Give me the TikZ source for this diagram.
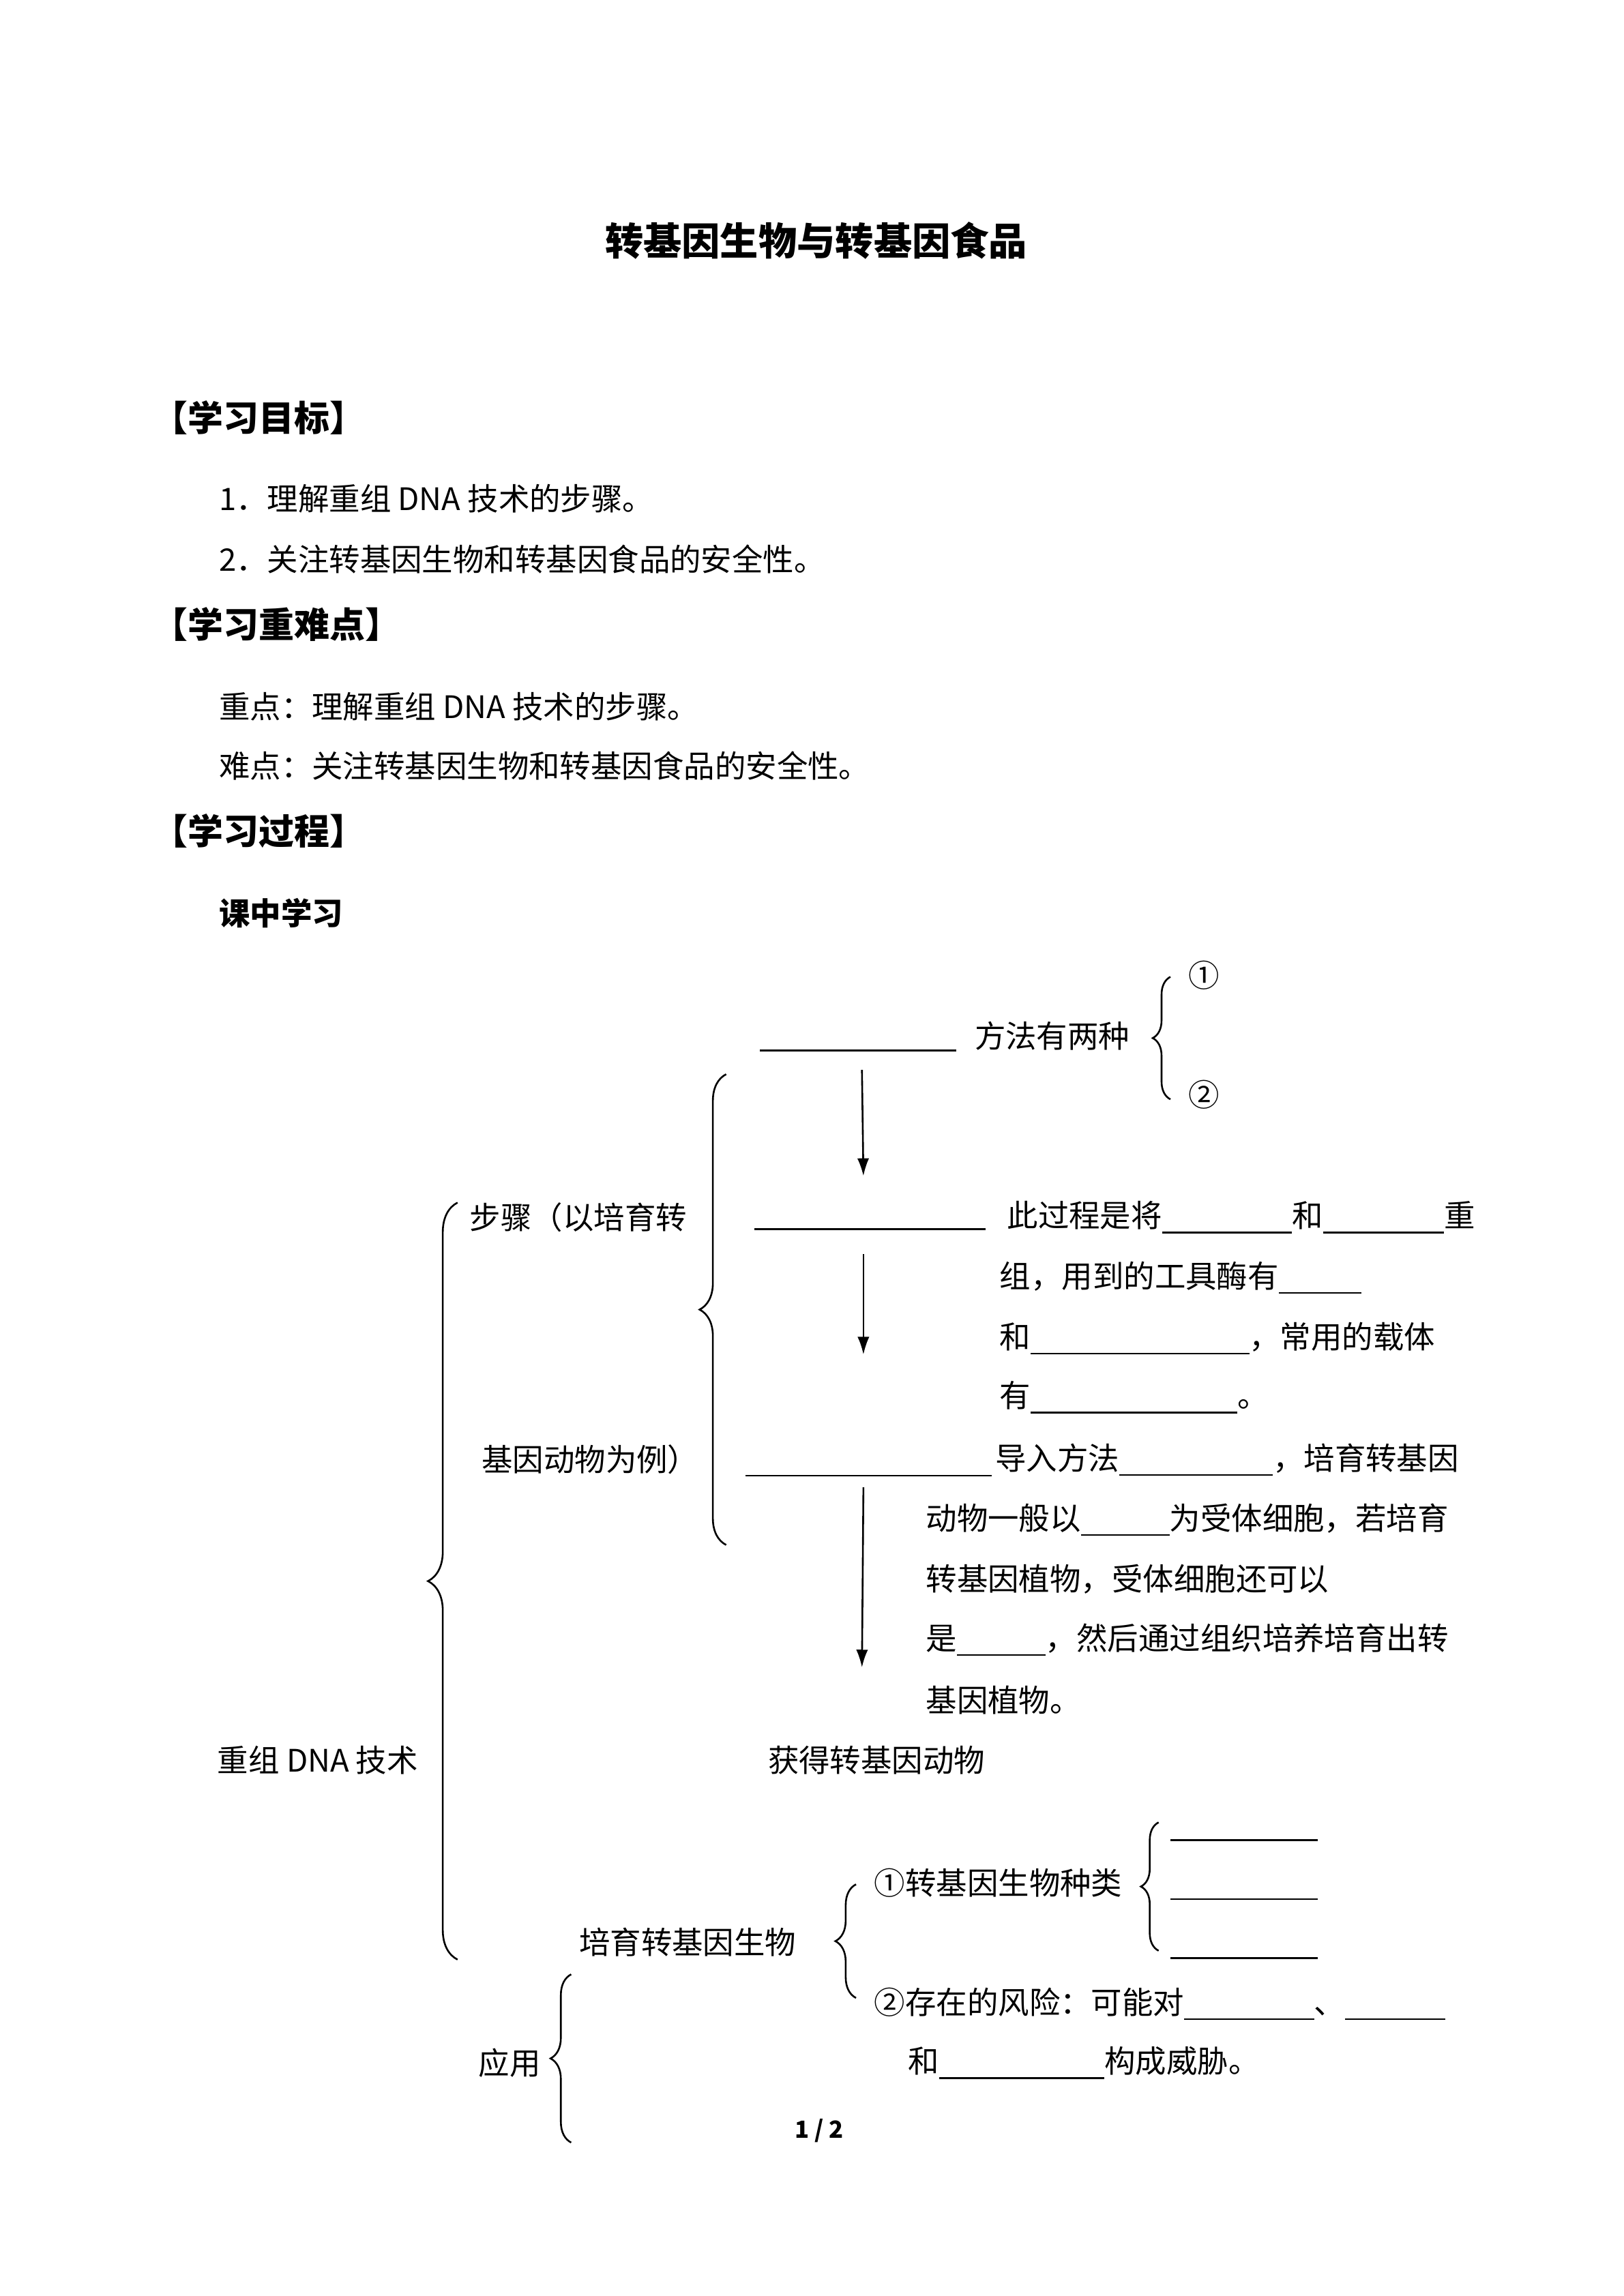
\documentclass[tikz,border=0pt]{standalone}
\usepackage{fontspec}
\setmainfont{Noto Sans CJK SC}
\usetikzlibrary{decorations.pathreplacing,arrows.meta}
\newcommand{\bl}[1]{\rule[-2pt]{#1pt}{0.5pt}}
\begin{document}
\begin{tikzpicture}[x=0.5pt,y=-0.5pt,
  txt/.style={anchor=west,inner sep=0pt,font=\fontsize{10.5pt}{12pt}\selectfont},
  head/.style={anchor=west,inner sep=0pt,font=\fontsize{12pt}{14pt}\selectfont\bfseries},
  brc/.style={decorate,decoration={brace,amplitude=#1},line width=0.6pt},
  arr/.style={-{Latex[length=6pt,width=4pt]},line width=0.6pt},
  uline/.style={line width=0.6pt}]
\useasboundingbox (0,0) rectangle (1100,1556);
\fill[white] (0,0) rectangle (1100,1556);
\node[inner sep=0pt,font=\fontsize{13pt}{15pt}\selectfont\bfseries] (title) at (553,163) {转基因生物与转基因食品};
\node[head] (h1) at (103,283) {【学习目标】};
\node[txt] (g1) at (148,338) {1．理解重组 DNA 技术的步骤。};
\node[txt] (g2) at (148,379) {2．关注转基因生物和转基因食品的安全性。};
\node[head] (h2) at (103,423) {【学习重难点】};
\node[txt] (k1) at (148,479) {重点：理解重组 DNA 技术的步骤。};
\node[txt] (k2) at (148,519) {难点：关注转基因生物和转基因食品的安全性。};
\node[head] (h3) at (103,563) {【学习过程】};
\node[txt,font=\fontsize{10.5pt}{12pt}\selectfont\bfseries] (kz) at (148,619) {课中学习};
% step 1
\coordinate (u1a) at (515,712); \coordinate (u1b) at (648,712);
\draw[uline] (u1a) -- (u1b);
\node[txt] (m1) at (660,702) {方法有两种};
\draw[brc=6pt] (793,745) -- (793,662);
\node[txt] (c1) at (805,661) {①};
\node[txt] (c2) at (805,742) {②};
\coordinate (a1s) at (584,725); \coordinate (a1e) at (585,797);
\draw[arr] (a1s) -- (a1e);
% step 2
\coordinate (u2a) at (511,833); \coordinate (u2b) at (668,833);
\draw[uline] (u2a) -- (u2b);
\node[txt] (s2a) at (682,825) {此过程是将\bl{44}和\bl{41}重};
\node[txt] (s2b) at (677,866) {组，用到的工具酶有\bl{28}};
\node[txt] (s2c) at (677,907) {和\bl{74}，常用的载体};
\node[txt] (s2d) at (677,947) {有\bl{70}。};
\coordinate (a2s) at (585,850); \coordinate (a2e) at (585,918);
\draw[arr] (a2s) -- (a2e);
% step 3
\coordinate (u3a) at (505,1000); \coordinate (u3b) at (672,1000);
\draw[uline] (u3a) -- (u3b);
\node[txt] (s3a) at (674,989) {导入方法\bl{52}，培育转基因};
\node[txt] (s3b) at (627,1030) {动物一般以\bl{30}为受体细胞，若培育};
\node[txt] (s3c) at (627,1070) {转基因植物，受体细胞还可以};
\node[txt] (s3d) at (627,1111) {是\bl{30}，然后通过组织培养培育出转};
\node[txt] (s3e) at (627,1152) {基因植物。};
\coordinate (a3s) at (585,1008); \coordinate (a3e) at (584,1130);
\draw[arr] (a3s) -- (a3e);
\node[txt] (get) at (520,1193) {获得转基因动物};
% steps brace
\draw[brc=9pt] (492,1047) -- (492,728);
\node[txt] (bz1) at (318,825) {步骤（以培育转};
\node[txt] (bz2) at (326,989) {基因动物为例）};
% main brace
\draw[brc=10pt] (310,1328) -- (310,815);
\node[txt] (dna) at (147,1193) {重组 DNA 技术};
% application
\node[txt] (py) at (392,1316) {培育转基因生物};
\draw[brc=7pt] (580,1354) -- (580,1277);
\node[txt] (z1) at (592,1276) {①转基因生物种类};
\draw[brc=6pt] (785,1322) -- (785,1235);
\draw[uline] (793,1247) -- (893,1247);
\draw[uline] (793,1287) -- (893,1287);
\draw[uline] (793,1327) -- (893,1327);
\node[txt] (z2) at (592,1358) {②存在的风险：可能对\bl{44}、\bl{34}};
\node[txt] (z3) at (615,1398) {和\bl{56}构成威胁。};
\node[txt] (yy) at (324,1398) {应用};
\draw[brc=7pt] (387,1452) -- (387,1338);
\node[inner sep=0pt,font=\fontsize{8pt}{9pt}\selectfont\bfseries] (pg) at (555,1444) {1 / 2};
\end{tikzpicture}
\end{document}
